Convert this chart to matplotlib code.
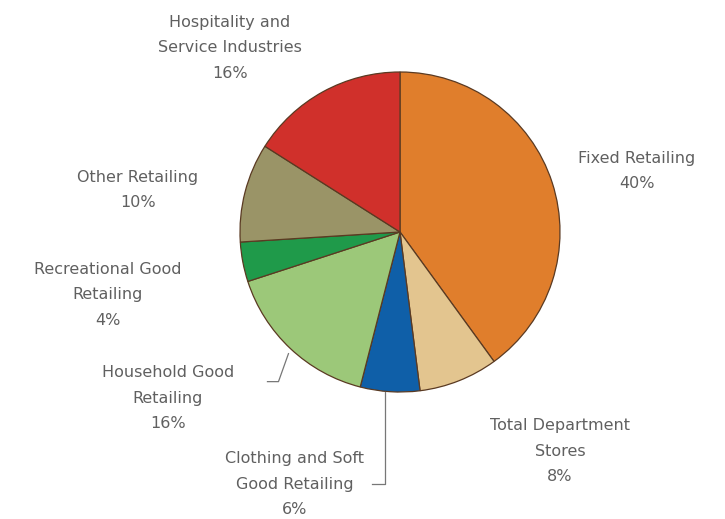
import numpy as np
import matplotlib
matplotlib.use("Agg")
import matplotlib.pyplot as plt

# Slices, clockwise from 12 o'clock
labels = [
    "Fixed Retailing",
    "Total Department\nStores",
    "Clothing and Soft\nGood Retailing",
    "Household Good\nRetailing",
    "Recreational Good\nRetailing",
    "Other Retailing",
    "Hospitality and\nService Industries",
]
shares = [40, 8, 6, 16, 4, 10, 16]
colors = ["#E07E2C", "#E3C58F", "#0F5FA8", "#9CC879", "#1F9A4A", "#9A9467", "#D0302B"]

W, H = 725, 519
CX, CY, R = 400, 232, 160

fig = plt.figure(figsize=(W / 100, H / 100), dpi=100)
ax = fig.add_axes([0, 0, 1, 1])

ax.pie(shares, colors=colors, startangle=90, counterclock=False,
       center=(CX, H - CY), radius=R, frame=True,
       wedgeprops=dict(edgecolor="#5a3a22", linewidth=0.9))
ax.set_xlim(0, W)
ax.set_ylim(0, H)
ax.set_aspect("equal")
ax.axis("off")

# label anchor positions (pixel, y down)
label_pos = [(637, 171), (560, 451), (295, 484), (168, 398), (108, 295), (138, 190), (230, 48)]
txt = dict(color="#606060", fontsize=11.5, family="DejaVu Sans", ha="center", va="center",
           linespacing=1.9)
for lab, pct, (lx, ly) in zip(labels, shares, label_pos):
    ax.text(lx, H - ly, f"{lab}\n{pct}%", **txt)

# leader lines from wedge mid-angles
cum = np.cumsum([0] + shares)
def edge_point(i):
    mid = (cum[i] + cum[i + 1]) / 2 / 100 * 360
    th = np.deg2rad(90 - mid)
    return CX + R * np.cos(th), CY - R * np.sin(th)

ex, ey = edge_point(3)
ax.plot([ex - 2, ex - 12, ex - 23], [H - ey - 5, H - ey - 33, H - ey - 33],
        color="#777777", lw=0.9)
ex, ey = edge_point(2)
ax.plot([ex - 5, ex - 5, ex - 18], [H - ey, H - ey - 92, H - ey - 92],
        color="#777777", lw=0.9)

fig.savefig("out.png", dpi=100)
